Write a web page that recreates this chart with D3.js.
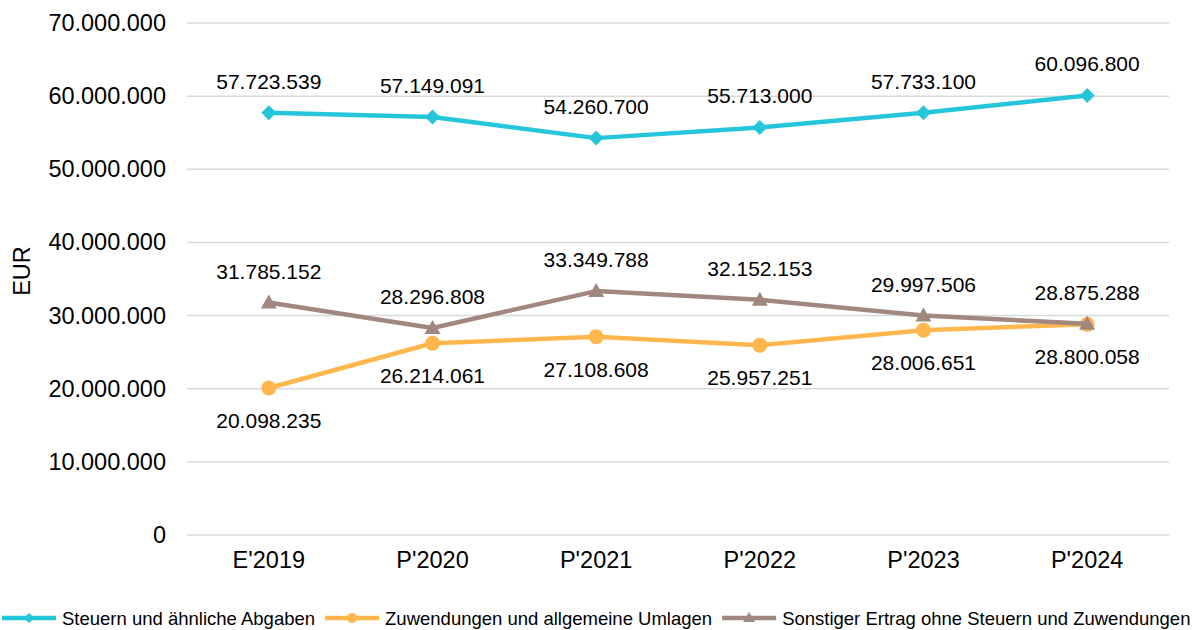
<!DOCTYPE html>
<html>
<head>
<meta charset="utf-8">
<script src="https://cdn.jsdelivr.net/npm/d3@7"></script>
<style>
  body { margin: 0; background: #fff; }
  text { font-family: "Liberation Sans", Arial, sans-serif; fill: #000; }
</style>
</head>
<body>
<svg id="chart" width="1204" height="630"></svg>
<script>
// Daten
const categories = ["E'2019", "P'2020", "P'2021", "P'2022", "P'2023", "P'2024"];
const steuern = [57723539, 57149091, 54260700, 55713000, 57733100, 60096800];
const zuwendungen = [20098235, 26214061, 27108608, 25957251, 28006651, 28800058];
const sonstiger = [31785152, 28296808, 33349788, 32152153, 29997506, 28875288];
const yTicks = [0, 10000000, 20000000, 30000000, 40000000, 50000000, 60000000, 70000000];

const series = [
  { name: 'Steuern und ähnliche Abgaben', values: steuern, color: '#26C6DA', marker: 'diamond', labelPos: 'above' },
  { name: 'Zuwendungen und allgemeine Umlagen', values: zuwendungen, color: '#FFB74D', marker: 'circle', labelPos: 'below' },
  { name: 'Sonstiger Ertrag ohne Steuern und Zuwendungen', values: sonstiger, color: '#A1887F', marker: 'triangle', labelPos: 'above' }
];

const fmt = v => d3.format(',')(v).replace(/,/g, '.');

const svg = d3.select('#chart');
const plotLeft = 187, plotRight = 1169, plotTop = 23, plotBottom = 535;

const x = d3.scaleBand().domain(categories).range([plotLeft, plotRight]);
const y = d3.scaleLinear().domain([0, 70000000]).range([plotBottom, plotTop]);

// Gitterlinien
svg.append('g')
  .selectAll('line')
  .data(yTicks)
  .enter()
  .append('line')
  .attr('x1', plotLeft)
  .attr('x2', plotRight)
  .attr('y1', d => y(d))
  .attr('y2', d => y(d))
  .style('stroke', '#d9d9d9')
  .style('stroke-width', '1.5px');

// Y-Achse
const yAxis = svg.append('g')
  .attr('transform', `translate(${plotLeft},0)`)
  .call(d3.axisLeft(y).tickValues(yTicks).tickFormat(fmt).tickSize(0).tickPadding(21));
yAxis.select('.domain').remove();
yAxis.selectAll('text')
  .style('font-size', '23.5px')
  .style('font-family', '"Liberation Sans", Arial, sans-serif')
  .attr('fill', '#000');

// X-Achse
const xAxis = svg.append('g')
  .attr('transform', `translate(0,${plotBottom})`)
  .call(d3.axisBottom(x).tickSize(0).tickPadding(16));
xAxis.select('.domain').remove();
xAxis.selectAll('text')
  .style('font-size', '23.5px')
  .style('font-family', '"Liberation Sans", Arial, sans-serif')
  .attr('fill', '#000');

// Achsentitel
svg.append('text')
  .attr('transform', 'translate(30,271) rotate(-90)')
  .attr('text-anchor', 'middle')
  .style('font-size', '23.5px')
  .text('EUR');

const cx = i => x(categories[i]) + x.bandwidth() / 2;

function drawMarker(g, type, color, px, py) {
  if (type === 'diamond') {
    g.append('path')
      .attr('d', `M${px},${py - 7.5}L${px + 7.5},${py}L${px},${py + 7.5}L${px - 7.5},${py}Z`)
      .style('fill', color);
  } else if (type === 'circle') {
    g.append('circle').attr('cx', px).attr('cy', py).attr('r', 7.5).style('fill', color);
  } else {
    g.append('path')
      .attr('d', `M${px},${py - 8}L${px + 8},${py + 6}L${px - 8},${py + 6}Z`)
      .style('fill', color);
  }
}

// Linien und Marker
series.forEach(s => {
  const line = d3.line().x((d, i) => cx(i)).y(d => y(d));
  svg.append('path')
    .datum(s.values)
    .attr('d', line)
    .style('fill', 'none')
    .style('stroke', s.color)
    .style('stroke-width', '4.5px')
    .style('stroke-linejoin', 'round');
  const g = svg.append('g');
  s.values.forEach((v, i) => drawMarker(g, s.marker, s.color, cx(i), y(v)));
});

// Datenbeschriftungen
series.forEach(s => {
  svg.append('g')
    .selectAll('text')
    .data(s.values)
    .enter()
    .append('text')
    .attr('x', (d, i) => cx(i))
    .attr('y', d => s.labelPos === 'above' ? y(d) - 24 : y(d) + 40)
    .attr('text-anchor', 'middle')
    .style('font-size', '21px')
    .text(fmt);
});

// Legende
const legend = svg.append('g').attr('transform', 'translate(0,618)');
let lx = 2;
series.forEach(s => {
  const item = legend.append('g').attr('transform', `translate(${lx},0)`);
  item.append('line')
    .attr('x1', 0).attr('x2', 54)
    .attr('y1', 0).attr('y2', 0)
    .style('stroke', s.color)
    .style('stroke-width', '4.5px');
  const mg = item.append('g');
  if (s.marker === 'diamond') {
    mg.append('path').attr('d', 'M27,-5L32,0L27,5L22,0Z').style('fill', s.color);
  } else if (s.marker === 'circle') {
    mg.append('circle').attr('cx', 27).attr('cy', 0).attr('r', 5).style('fill', s.color);
  } else {
    mg.append('path').attr('d', 'M27,-6L33,4L21,4Z').style('fill', s.color);
  }
  const t = item.append('text')
    .attr('x', 60)
    .attr('y', 6.5)
    .style('font-size', '18.5px')
    .text(s.name);
  lx += 60 + t.node().getComputedTextLength() + 10;
});
</script>
</body>
</html>
